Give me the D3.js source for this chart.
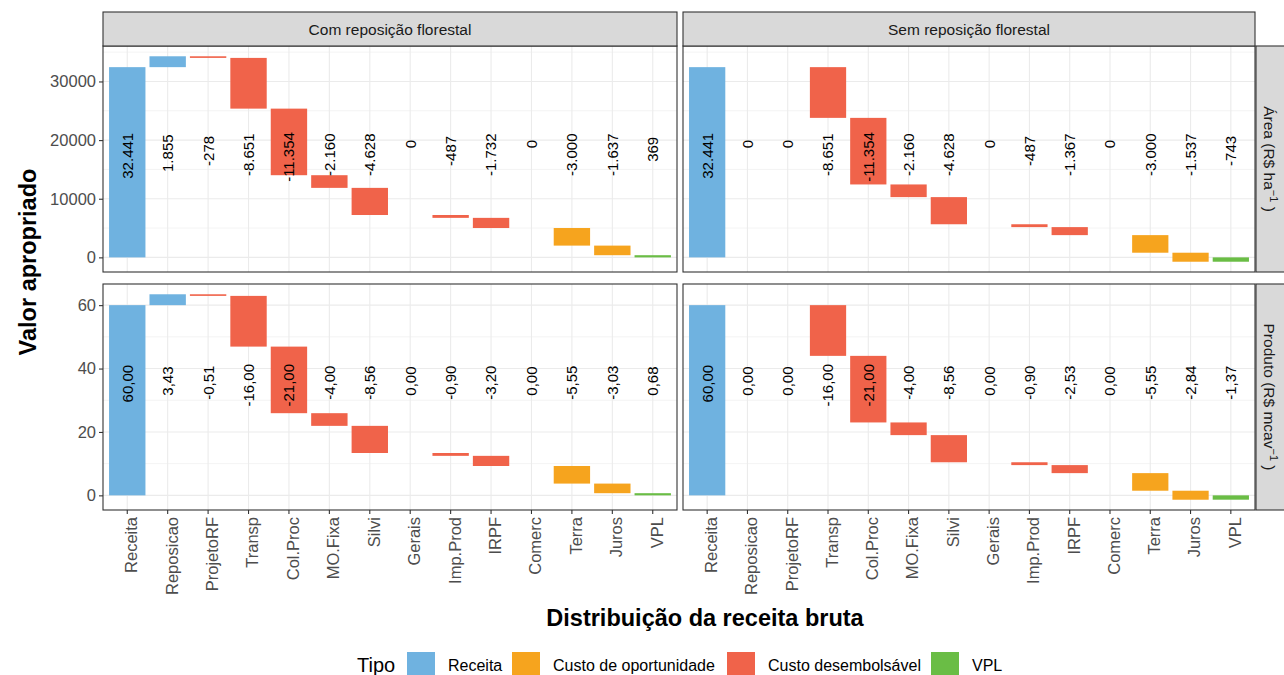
<!DOCTYPE html>
<html>
<head>
<meta charset="utf-8">
<script src="https://cdn.jsdelivr.net/npm/d3@7"></script>
<style>
  body { margin: 0; background: #fff; }
  svg { display: block; font-family: "Liberation Sans", Arial, sans-serif; }
</style>
</head>
<body>
<svg id="chart" width="1284" height="675"></svg>
<script>
// Categories of the gross-revenue breakdown
const categories = ["Receita", "Reposicao", "ProjetoRF", "Transp", "Col.Proc", "MO.Fixa", "Silvi",
  "Gerais", "Imp.Prod", "IRPF", "Comerc", "Terra", "Juros", "VPL"];
const categoryType = ["Receita", "Receita", "Custo desembolsável", "Custo desembolsável", "Custo desembolsável",
  "Custo desembolsável", "Custo desembolsável", "Custo desembolsável", "Custo desembolsável",
  "Custo desembolsável", "Custo desembolsável", "Custo de oportunidade", "Custo de oportunidade", "VPL"];

// Facets
const columns = ["Com reposição florestal", "Sem reposição florestal"];
const rows = ["Área", "Produto"];

// Values per hectare (R$ ha-1)
const areaCom = [32441, 1855, -278, -8651, -11354, -2160, -4628, 0, -487, -1732, 0, -3000, -1637, 369];
const areaSem = [32441, 0, 0, -8651, -11354, -2160, -4628, 0, -487, -1367, 0, -3000, -1537, -743];
// Values per product unit (R$ mcav-1)
const produtoCom = [60.00, 3.43, -0.51, -16.00, -21.00, -4.00, -8.56, 0.00, -0.90, -3.20, 0.00, -5.55, -3.03, 0.68];
const produtoSem = [60.00, 0.00, 0.00, -16.00, -21.00, -4.00, -8.56, 0.00, -0.90, -2.53, 0.00, -5.55, -2.84, -1.37];

const legendTypes = ["Receita", "Custo de oportunidade", "Custo desembolsável", "VPL"];
const typeColors = ["#6fb2e0", "#f6a41e", "#f0634a", "#6abd45"];

const seriesByFacet = {
  "Área|Com reposição florestal": areaCom,
  "Área|Sem reposição florestal": areaSem,
  "Produto|Com reposição florestal": produtoCom,
  "Produto|Sem reposição florestal": produtoSem
};

// pt-BR number formatting for the value labels
const ptBR = d3.formatLocale({ decimal: ",", thousands: ".", grouping: [3], currency: ["R$", ""], minus: "-" });
const rowFormat = { "Área": ptBR.format(",.0f"), "Produto": ptBR.format(",.2f") };

const color = d3.scaleOrdinal().domain(legendTypes).range(typeColors);

// Waterfall segments: first and last bars start at zero, the rest are cumulative
function waterfall(values) {
  let running = 0;
  return values.map((v, i) => {
    let y0, y1;
    if (i === 0 || i === values.length - 1) { y0 = 0; y1 = v; }
    else { y0 = running; y1 = running + v; }
    if (i < values.length - 1) running = (i === 0 ? v : y1);
    return { cat: categories[i], type: categoryType[i], value: v, y0, y1 };
  });
}

// Layout
const svg = d3.select("#chart");
const colX = [[103, 677], [683, 1255]];
const rowY = [[46, 272], [284, 510]];
const stripTop = [12, 46];
const stripRight = [1256, 1290];
const labelAnchor = { "Área": 19750, "Produto": 38.9 };
const labelHjust = 0.81;

// Shared y scale per row (free y across rows)
const yScales = {};
rows.forEach((r, ri) => {
  const segs = columns.flatMap(c => waterfall(seriesByFacet[r + "|" + c]));
  const lo = d3.min(segs, d => Math.min(d.y0, d.y1));
  const hi = d3.max(segs, d => Math.max(d.y0, d.y1));
  const pad = (hi - lo) * 0.05;
  yScales[r] = d3.scaleLinear().domain([lo - pad, hi + pad]).range([rowY[ri][1], rowY[ri][0]]);
});

const gridG = svg.append("g");
const barG = svg.append("g");
const frameG = svg.append("g");

columns.forEach((c, ci) => {
  const x = d3.scaleBand().domain(categories).range(colX[ci]).paddingInner(0.1).paddingOuter(0.15);
  rows.forEach((r, ri) => {
    const y = yScales[r];
    const [px0, px1] = colX[ci];
    const [py0, py1] = rowY[ri];
    const segs = waterfall(seriesByFacet[r + "|" + c]);

    // grid
    const major = y.ticks(4);
    const minor = y.ticks(8).filter(t => !major.includes(t));
    gridG.append("rect").attr("x", px0).attr("y", py0).attr("width", px1 - px0).attr("height", py1 - py0).attr("fill", "#fff");
    gridG.selectAll(null).data(minor).join("line")
      .attr("x1", px0).attr("x2", px1).attr("y1", d => y(d)).attr("y2", d => y(d))
      .attr("stroke", "#ebebeb").attr("stroke-width", 0.6);
    gridG.selectAll(null).data(major).join("line")
      .attr("x1", px0).attr("x2", px1).attr("y1", d => y(d)).attr("y2", d => y(d))
      .attr("stroke", "#ebebeb").attr("stroke-width", 1.1);
    gridG.selectAll(null).data(categories).join("line")
      .attr("x1", d => x(d) + x.bandwidth() / 2).attr("x2", d => x(d) + x.bandwidth() / 2)
      .attr("y1", py0).attr("y2", py1)
      .attr("stroke", "#ebebeb").attr("stroke-width", 1.1);

    // bars
    barG.selectAll(null).data(segs.filter(d => d.value !== 0)).join("rect")
      .attr("x", d => x(d.cat))
      .attr("width", x.bandwidth())
      .attr("y", d => y(Math.max(d.y0, d.y1)))
      .attr("height", d => Math.abs(y(d.y0) - y(d.y1)))
      .attr("fill", d => color(d.type));

    // value labels
    const fmt = rowFormat[r];
    barG.selectAll(null).data(segs).join("text")
      .attr("transform", d => `translate(${x(d.cat) + x.bandwidth() / 2},${y(labelAnchor[r])}) rotate(-90)`)
      .attr("dy", "0.36em")
      .attr("font-size", 15)
      .attr("fill", "#000")
      .text(d => fmt(d.value))
      .attr("x", function () { return -labelHjust * this.getComputedTextLength(); });

    // panel border
    frameG.append("rect").attr("x", px0).attr("y", py0).attr("width", px1 - px0).attr("height", py1 - py0)
      .attr("fill", "none").attr("stroke", "#333").attr("stroke-width", 1.1);

    // y axis on the left column
    if (ci === 0) {
      const ax = frameG.append("g").attr("transform", `translate(${px0},0)`)
        .call(d3.axisLeft(y).tickValues(major).tickSize(4).tickPadding(3).tickFormat(d3.format("d")));
      ax.select(".domain").remove();
      ax.selectAll(".tick line").attr("stroke", "#333").attr("stroke-width", 1.1);
      ax.selectAll(".tick text").attr("fill", "#4d4d4d").attr("font-size", 16.5)
        .attr("font-family", "'Liberation Sans', Arial, sans-serif");
    }
    // x axis on the bottom row
    if (ri === rows.length - 1) {
      const ax = frameG.append("g").attr("transform", `translate(0,${py1})`)
        .call(d3.axisBottom(x).tickSize(4).tickPadding(3));
      ax.select(".domain").remove();
      ax.selectAll(".tick line").attr("stroke", "#333").attr("stroke-width", 1.1);
      ax.selectAll(".tick text")
        .attr("fill", "#4d4d4d").attr("font-size", 16.5)
        .attr("font-family", "'Liberation Sans', Arial, sans-serif")
        .attr("text-anchor", "end")
        .attr("transform", "rotate(-90)")
        .attr("x", -7).attr("y", 0).attr("dy", "0.6em");
    }
  });

  // column strip
  frameG.append("rect").attr("x", colX[ci][0]).attr("y", stripTop[0])
    .attr("width", colX[ci][1] - colX[ci][0]).attr("height", stripTop[1] - stripTop[0])
    .attr("fill", "#d9d9d9").attr("stroke", "#333").attr("stroke-width", 1.1);
  frameG.append("text").attr("x", (colX[ci][0] + colX[ci][1]) / 2).attr("y", (stripTop[0] + stripTop[1]) / 2)
    .attr("dy", "0.36em").attr("text-anchor", "middle").attr("font-size", 15.5).attr("fill", "#1a1a1a")
    .text(c);
});

// row strips
const rowUnits = { "Área": "(R$ ha", "Produto": "(R$ mcav" };
rows.forEach((r, ri) => {
  frameG.append("rect").attr("x", stripRight[0]).attr("y", rowY[ri][0])
    .attr("width", stripRight[1] - stripRight[0]).attr("height", rowY[ri][1] - rowY[ri][0])
    .attr("fill", "#d9d9d9").attr("stroke", "#333").attr("stroke-width", 1.1);
  const t = frameG.append("text")
    .attr("transform", `translate(${stripRight[0] + 14},${(rowY[ri][0] + rowY[ri][1]) / 2}) rotate(90)`)
    .attr("text-anchor", "middle").attr("dy", "0.36em").attr("font-size", 15.5).attr("fill", "#1a1a1a");
  t.append("tspan").text(r + " " + rowUnits[r]);
  t.append("tspan").attr("baseline-shift", "super").attr("font-size", 11).text("−1");
  t.append("tspan").text(" )");
});

// axis titles
svg.append("text").attr("transform", "translate(36,262) rotate(-90)")
  .attr("text-anchor", "middle").attr("font-size", 23.5).attr("font-weight", "bold").attr("fill", "#000")
  .text("Valor apropriado");
svg.append("text").attr("x", 705).attr("y", 626)
  .attr("text-anchor", "middle").attr("font-size", 23.5).attr("font-weight", "bold").attr("fill", "#000")
  .text("Distribuição da receita bruta");

// legend
const legend = svg.append("g");
legend.append("text").attr("x", 357).attr("y", 672).attr("font-size", 20).attr("fill", "#000").text("Tipo");
const keyX = [407, 512, 727, 931];
legendTypes.forEach((t, i) => {
  legend.append("rect").attr("x", keyX[i]).attr("y", 652).attr("width", 28).attr("height", 28).attr("fill", color(t));
  legend.append("text").attr("x", keyX[i] + 41).attr("y", 671).attr("font-size", 16).attr("fill", "#000").text(t);
});
</script>
</body>
</html>
